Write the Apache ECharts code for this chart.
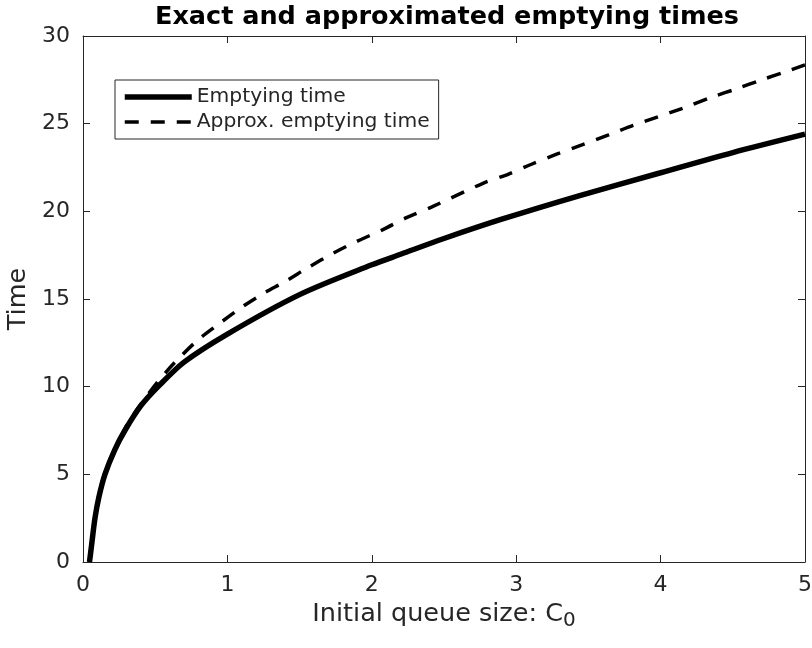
<!DOCTYPE html>
<html>
<head>
<meta charset="utf-8">
<script src="https://cdn.jsdelivr.net/npm/echarts@6/dist/echarts.min.js"></script>
<style>
html,body{margin:0;padding:0;background:#fff;}
#chart{width:812px;height:648px;}
</style>
</head>
<body>
<div id="chart"></div>
<script>
// Exact emptying time
const exactX = [0.045, 0.06, 0.083, 0.11, 0.152, 0.22, 0.29, 0.4, 0.52, 0.7, 1.0, 1.5, 2.0, 2.2, 2.5, 2.9, 3.44, 4.0, 4.5, 5.0];
const exactY = [0, 1, 2.5, 3.7, 5, 6.4, 7.5, 8.9, 10, 11.4, 13.0, 15.25, 16.95, 17.55, 18.45, 19.55, 20.9, 22.2, 23.35, 24.4];
// Approximated emptying time
const approxX = [0.045, 0.083, 0.152, 0.29, 0.4, 0.52, 0.638, 0.787, 0.935, 1.087, 1.246, 1.4, 1.56, 1.73, 1.9, 2.07, 2.24, 2.42, 2.77, 2.94, 3.11, 3.28, 3.46, 3.64, 3.81, 4.16, 4.35, 4.53, 4.70, 4.88, 5.0];
const approxY = [0, 2.5, 5.1, 7.6, 9.0, 10.3, 11.4, 12.6, 13.54, 14.46, 15.3, 16.0, 16.8, 17.6, 18.3, 18.93, 19.64, 20.27, 21.6, 22.1, 22.7, 23.26, 23.8, 24.36, 24.9, 25.9, 26.5, 27.0, 27.5, 28.0, 28.35];
const seriesNames = ['Emptying time', 'Approx. emptying time'];
const xTicks = [0, 1, 2, 3, 4, 5];
const yTicks = [0, 5, 10, 15, 20, 25, 30];

const zip = (xs, ys) => xs.map((x, i) => [x, ys[i]]);
const axisColor = '#262626';
const font = 'DejaVu Sans';
const dash = [14, 12];

const chart = echarts.init(document.getElementById('chart'), null, {renderer: 'canvas'});
const baseX = {
  type: 'value', min: xTicks[0], max: xTicks[xTicks.length - 1], interval: 1,
  axisLine: {show: true, onZero: false, lineStyle: {color: axisColor, width: 1}},
  axisTick: {show: true, inside: true, length: 7, lineStyle: {color: axisColor}},
  splitLine: {show: false}
};
const baseY = {
  type: 'value', min: yTicks[0], max: yTicks[yTicks.length - 1], interval: 5,
  axisLine: {show: true, onZero: false, lineStyle: {color: axisColor, width: 1}},
  axisTick: {show: true, inside: true, length: 7, lineStyle: {color: axisColor}},
  splitLine: {show: false}
};
chart.setOption({
  animation: false,
  backgroundColor: '#fff',
  textStyle: {fontFamily: font},
  title: {
    text: 'Exact and approximated emptying times',
    left: 442, top: -1, textAlign: 'center',
    textStyle: {fontFamily: font, fontWeight: 'bold', fontSize: 25.5, color: '#000'}
  },
  grid: {left: 83, right: 7, top: 36, bottom: 86, containLabel: false, outerBoundsMode: 'none'},
  legend: {
    orient: 'vertical', left: 115, top: 80,
    data: [
      {name: seriesNames[0], itemStyle: {opacity: 0}, lineStyle: {color: '#000', width: 5.5, type: 'solid', cap: 'butt'}},
      {name: seriesNames[1], itemStyle: {opacity: 0}, lineStyle: {color: '#000', width: 3.5, type: dash, cap: 'butt'}}
    ],
    itemWidth: 67, itemHeight: 20, itemGap: 5,
    padding: [7, 9, 7, 7],
    borderColor: axisColor, borderWidth: 1, borderRadius: 0,
    backgroundColor: '#fff',
    textStyle: {fontFamily: font, fontSize: 20.3, color: axisColor, padding: [0, 0, 0, 0]}
  },
  xAxis: [
    Object.assign({}, baseX, {
      position: 'bottom',
      axisLabel: {show: true, fontFamily: font, fontSize: 22, color: axisColor, margin: 12},
      name: 'Initial queue size: C{sub|0}',
      nameLocation: 'middle', nameGap: 34,
      nameTextStyle: {fontFamily: font, fontSize: 25.5, color: axisColor,
        rich: {sub: {fontFamily: font, fontSize: 20, color: axisColor, verticalAlign: 'bottom', padding: [14, 0, 0, 0]}}}
    }),
    Object.assign({}, baseX, {position: 'top', axisLabel: {show: false}})
  ],
  yAxis: [
    Object.assign({}, baseY, {
      position: 'left',
      axisLabel: {show: true, fontFamily: font, fontSize: 22, color: axisColor, margin: 13},
      name: 'Time', nameLocation: 'middle', nameGap: 50, nameRotate: 90,
      nameTextStyle: {fontFamily: font, fontSize: 25.5, color: axisColor}
    }),
    Object.assign({}, baseY, {position: 'right', axisLabel: {show: false}})
  ],
  series: [
    {
      name: seriesNames[0], type: 'line', data: zip(exactX, exactY),
      showSymbol: false, symbol: 'none', smooth: 0.3, z: 3,
      lineStyle: {color: '#000', width: 5.5},
      itemStyle: {color: '#000'}
    },
    {
      name: seriesNames[1], type: 'line', data: zip(approxX, approxY),
      showSymbol: false, symbol: 'none', smooth: 0.3, z: 2,
      lineStyle: {color: '#000', width: 3.5, type: dash, cap: 'butt'},
      itemStyle: {color: '#000'}
    }
  ]
});
</script>
</body>
</html>
